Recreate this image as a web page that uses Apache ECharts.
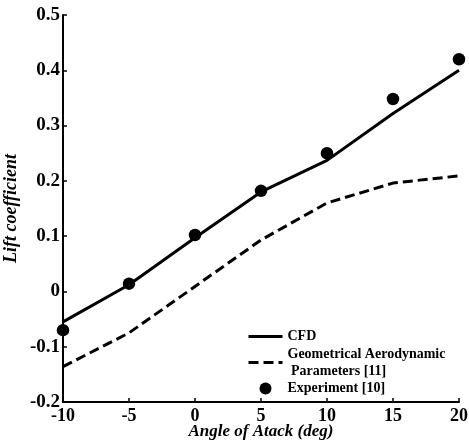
<!DOCTYPE html>
<html><head><meta charset="utf-8">
<script src="https://cdn.jsdelivr.net/npm/echarts@6/dist/echarts.min.js"></script>
<style>html,body{margin:0;padding:0;background:#fff}#c{width:469px;height:445px}</style>
</head><body><div id="c"></div>
<script>
const angles = [-10, -5, 0, 5, 10, 15, 20];
const cfd = [-0.055, 0.012, 0.097, 0.180, 0.237, 0.322, 0.400];
const geometrical = [-0.136, -0.075, 0.009, 0.093, 0.160, 0.196, 0.209];
const experiment = [-0.070, 0.014, 0.102, 0.182, 0.250, 0.348, 0.420];
const seriesNames = ['CFD', 'Geometrical Aerodynamic\n Parameters [11]', 'Experiment [10]'];

const pair = arr => angles.map((a, i) => [a, arr[i]]);
const FF = '"Liberation Serif", "Times New Roman", serif';
const chart = echarts.init(document.getElementById('c'), null, {renderer: 'canvas'});
chart.setOption({
  animation: false,
  backgroundColor: '#fff',
  grid: {left: 63, right: 10, top: 15, bottom: 43, containLabel: false, outerBoundsMode: 'none'},
  xAxis: {
    type: 'value', min: -10, max: 20, interval: 5,
    name: 'Angle of Atack (deg)', nameLocation: 'middle', nameGap: 21, nameMoveOverlap: false,
    nameTextStyle: {fontFamily: FF, fontWeight: 'bold', fontStyle: 'italic', fontSize: 17, color: '#000'},
    axisLine: {onZero: false, lineStyle: {color: '#000', width: 2}},
    axisTick: {inside: true, length: 4, lineStyle: {color: '#000', width: 1.5}},
    axisLabel: {fontFamily: FF, fontWeight: 'bold', fontSize: 18, color: '#000', margin: 5},
    splitLine: {show: false}
  },
  yAxis: {
    type: 'value', min: -0.2, max: 0.5, interval: 0.1,
    name: 'Lift coefficient', nameLocation: 'middle', nameGap: 43, nameRotate: 90, nameMoveOverlap: false,
    nameTextStyle: {fontFamily: FF, fontWeight: 'bold', fontStyle: 'italic', fontSize: 18, color: '#000'},
    axisLine: {show: true, onZero: false, lineStyle: {color: '#000', width: 2}},
    axisTick: {show: true, inside: true, length: 4, lineStyle: {color: '#000', width: 1.5}},
    axisLabel: {fontFamily: FF, fontWeight: 'bold', fontSize: 19, color: '#000', margin: 3,
      formatter: v => (Math.abs(v) < 1e-9 ? '0' : v.toFixed(1))},
    splitLine: {show: false}
  },
  legend: {
    orient: 'vertical', left: 247, top: 328, itemGap: -8, itemWidth: 34, itemHeight: 12,
    padding: 0,
    lineStyle: {width: 3},
    textStyle: {fontFamily: FF, fontWeight: 'bold', fontSize: 14, color: '#000', lineHeight: 17},
    data: [
      {name: seriesNames[0], itemStyle: {opacity: 0}},
      {name: seriesNames[1], itemStyle: {opacity: 0}, textStyle: {padding: [17, 0, 0, 0]}},
      {name: seriesNames[2], icon: 'circle'}
    ]
  },
  series: [
    {name: seriesNames[0], type: 'line', data: pair(cfd), showSymbol: false, symbol: 'none',
      lineStyle: {color: '#000', width: 3}, itemStyle: {color: '#000'}},
    {name: seriesNames[1], type: 'line', data: pair(geometrical), showSymbol: false, symbol: 'none',
      lineStyle: {color: '#000', width: 3, type: [10, 5]}, itemStyle: {color: '#000'}},
    {name: seriesNames[2], type: 'scatter', data: pair(experiment), symbol: 'circle', symbolSize: 12.5,
      itemStyle: {color: '#000', opacity: 1}}
  ]
});
</script></body></html>
